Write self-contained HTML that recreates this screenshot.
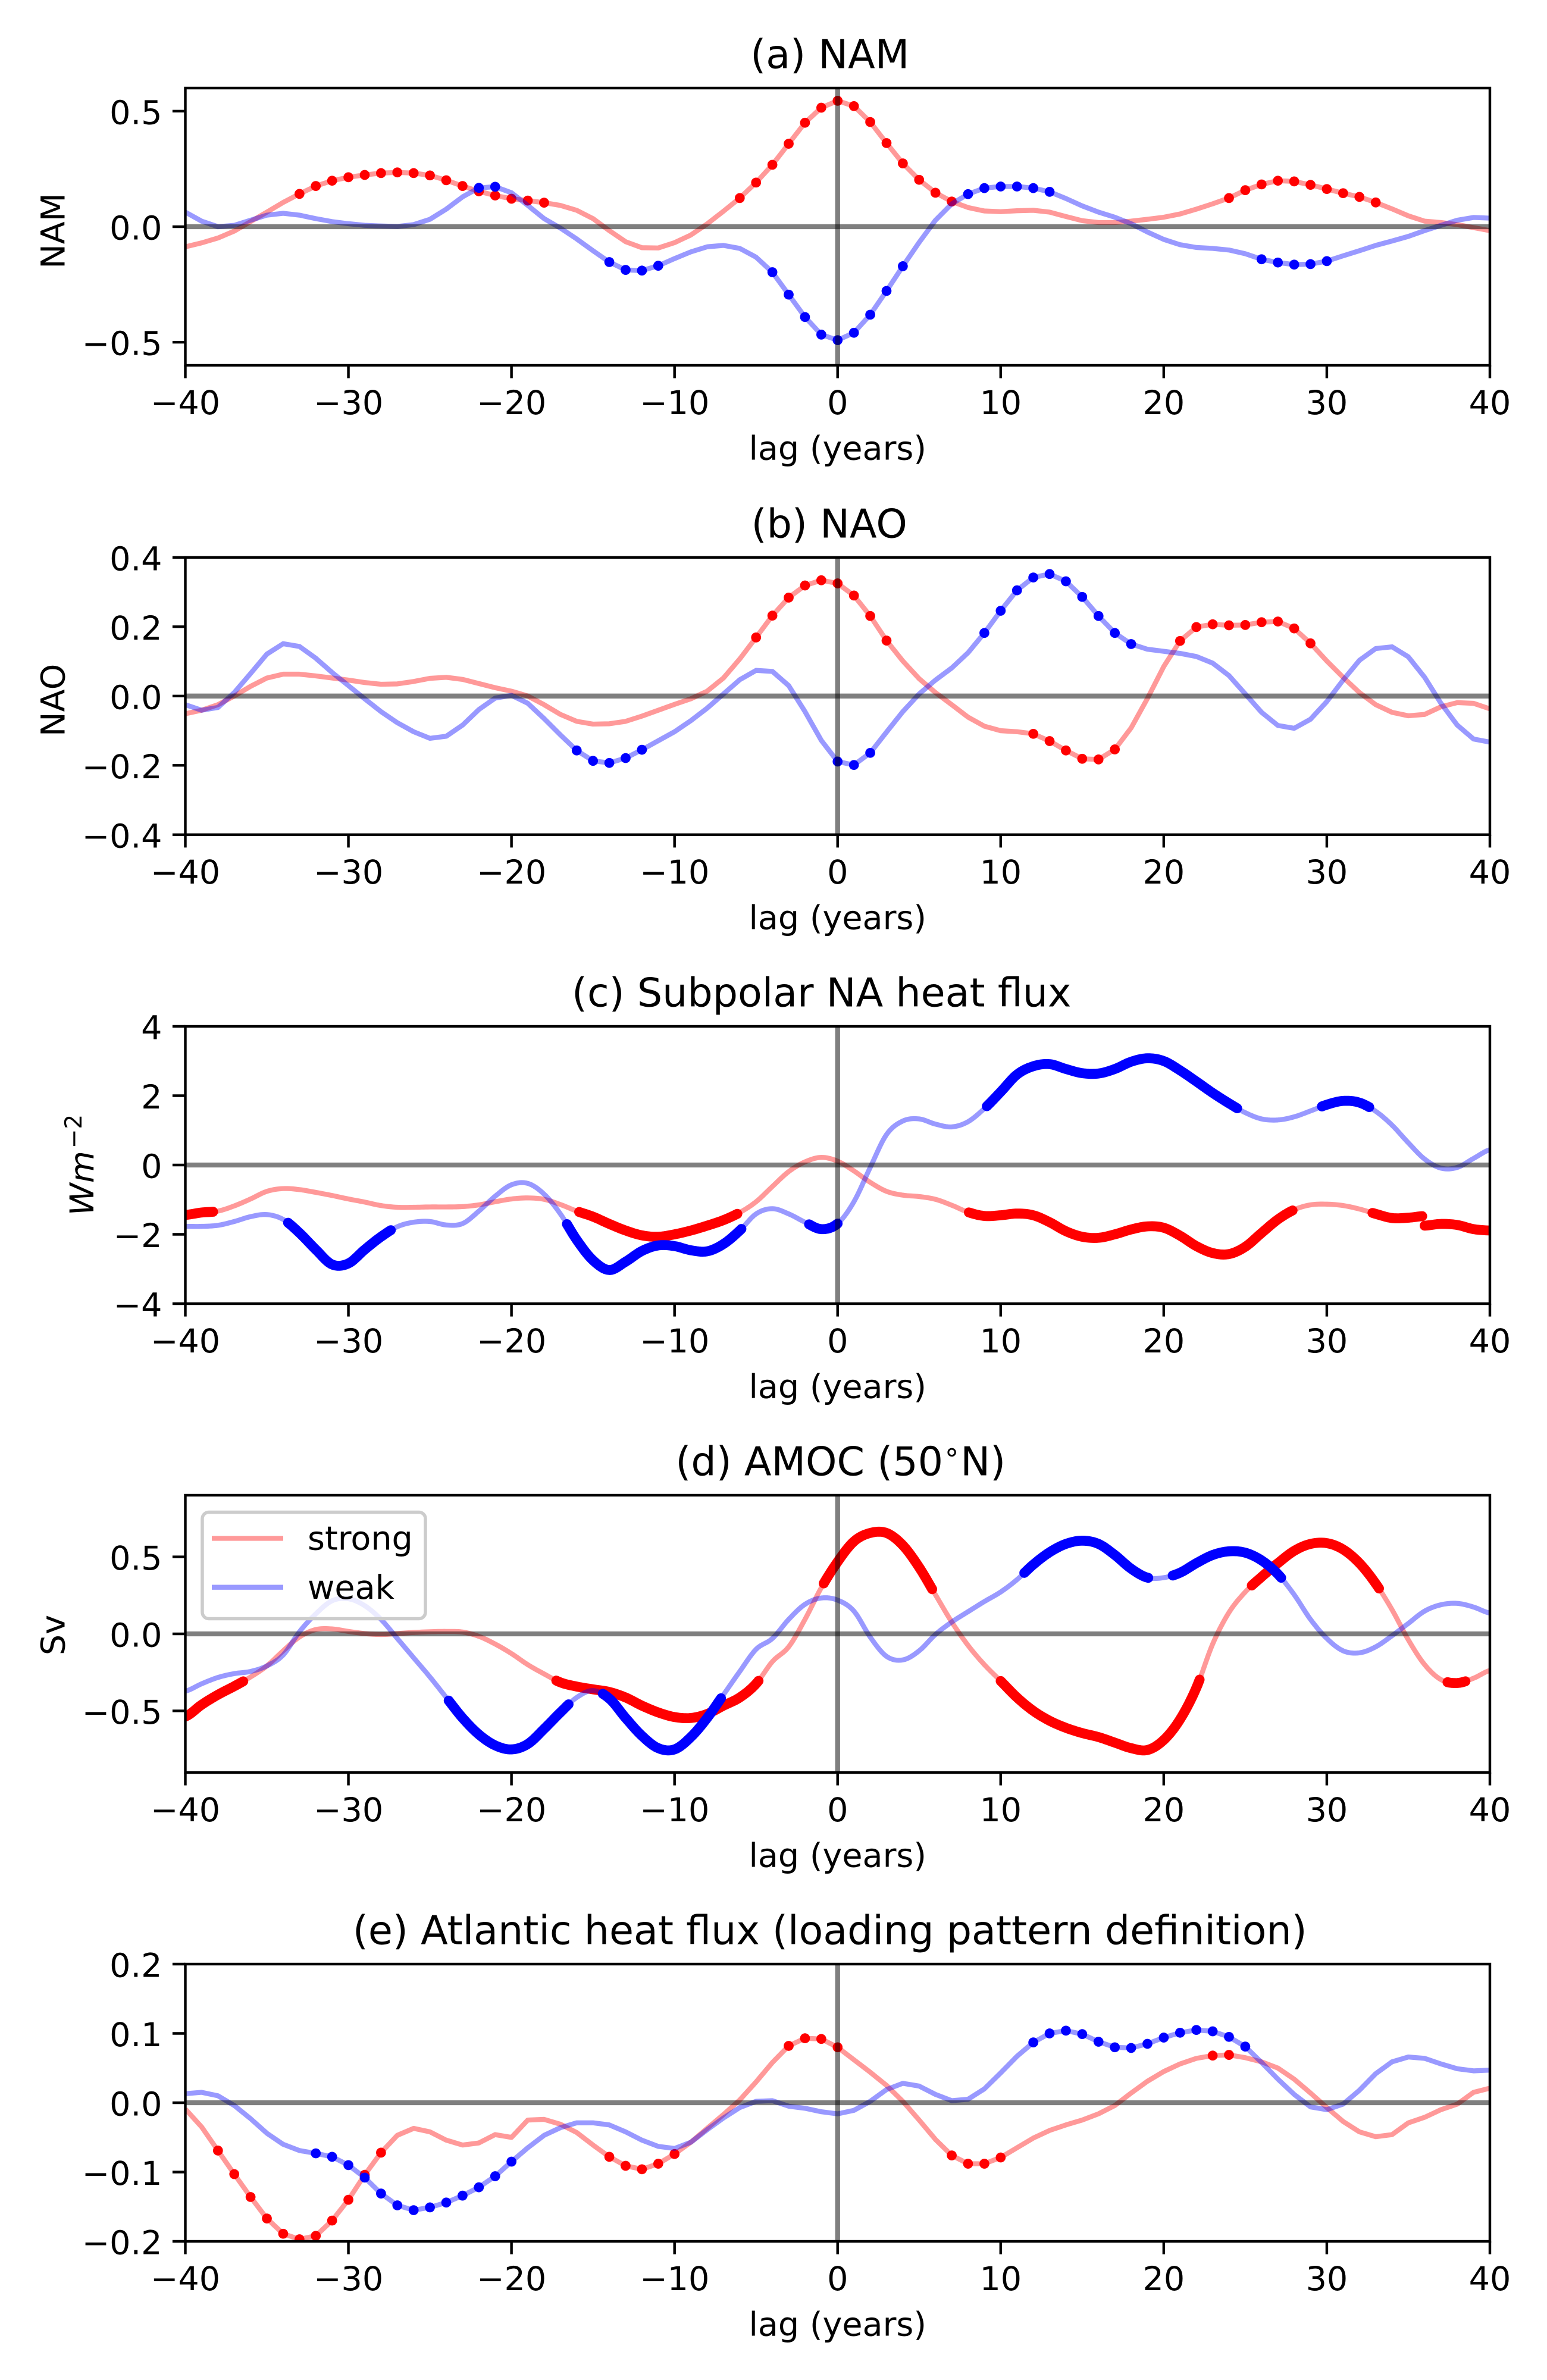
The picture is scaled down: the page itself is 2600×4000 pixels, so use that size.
<!DOCTYPE html>
<html lang="en">
<head>
<meta charset="utf-8">
<title>Lag composites of NAM, NAO, heat flux and AMOC</title>
<style>
  html, body { margin: 0; padding: 0; background: #ffffff; }
  svg { display: block; }
  text { font-family: "DejaVu Sans", "Liberation Sans", sans-serif; fill: #000000; }
</style>
</head>
<body>
<svg id="figure" xmlns="http://www.w3.org/2000/svg" width="2600" height="4000" viewBox="0 0 2600 4000"></svg>
<script>
// ---------- Data: values at integer lags, first value is lag -40 ----------
const xTickValues = [-40, -30, -20, -10, 0, 10, 20, 30, 40];
const xTickLabels = ['\u221240', '\u221230', '\u221220', '\u221210', '0', '10', '20', '30', '40'];

const namStrong = [-0.087,-0.07,-0.049,-0.019,0.022,0.063,0.105,0.142,0.176,0.199,0.214,0.224,0.232,0.235,0.232,0.222,0.201,0.176,0.153,0.135,0.121,0.113,0.104,0.092,0.071,0.035,-0.017,-0.065,-0.091,-0.092,-0.069,-0.036,0.012,0.067,0.124,0.191,0.268,0.359,0.45,0.515,0.545,0.522,0.453,0.362,0.274,0.203,0.147,0.109,0.083,0.068,0.065,0.069,0.071,0.063,0.044,0.026,0.018,0.018,0.024,0.032,0.041,0.055,0.076,0.099,0.124,0.158,0.183,0.199,0.196,0.181,0.163,0.145,0.129,0.105,0.077,0.047,0.024,0.018,0.009,-0.004,-0.017];
const namWeak = [0.063,0.024,0,0.006,0.028,0.05,0.058,0.05,0.035,0.022,0.013,0.006,0.003,0.001,0.009,0.032,0.076,0.129,0.168,0.173,0.147,0.092,0.035,-0.006,-0.053,-0.104,-0.153,-0.187,-0.19,-0.169,-0.138,-0.109,-0.087,-0.081,-0.094,-0.132,-0.197,-0.294,-0.391,-0.467,-0.491,-0.459,-0.381,-0.278,-0.171,-0.068,0.028,0.099,0.141,0.167,0.174,0.174,0.167,0.151,0.122,0.09,0.063,0.041,0.013,-0.023,-0.055,-0.078,-0.09,-0.094,-0.101,-0.117,-0.141,-0.155,-0.164,-0.162,-0.149,-0.126,-0.104,-0.081,-0.062,-0.042,-0.017,0.006,0.028,0.04,0.037];
const namStrongSig = [[-33,-18],[-6,7],[24,33]];
const namWeakSig = [[-22,-21],[-14,-11],[-4,4],[8,13],[26,30]];
const namTicks = [0.5, 0, -0.5];
const namTickLabels = ['0.5', '0.0', '\u22120.5'];

const naoStrong = [-0.051,-0.041,-0.025,0,0.028,0.052,0.063,0.063,0.058,0.052,0.046,0.039,0.034,0.035,0.042,0.051,0.054,0.048,0.036,0.024,0.014,0,-0.025,-0.053,-0.073,-0.081,-0.08,-0.073,-0.058,-0.041,-0.024,-0.008,0.014,0.052,0.107,0.169,0.232,0.284,0.319,0.334,0.325,0.29,0.231,0.16,0.101,0.05,0.01,-0.025,-0.061,-0.087,-0.1,-0.103,-0.109,-0.13,-0.157,-0.181,-0.183,-0.154,-0.092,-0.007,0.085,0.159,0.199,0.207,0.204,0.205,0.213,0.215,0.195,0.152,0.101,0.054,0.01,-0.025,-0.047,-0.057,-0.053,-0.031,-0.019,-0.021,-0.037];
const naoWeak = [-0.025,-0.041,-0.033,0.01,0.065,0.121,0.151,0.143,0.109,0.068,0.03,-0.008,-0.045,-0.077,-0.103,-0.122,-0.116,-0.084,-0.039,-0.006,0.002,-0.021,-0.065,-0.112,-0.157,-0.187,-0.193,-0.179,-0.155,-0.129,-0.103,-0.071,-0.035,0.006,0.047,0.074,0.071,0.03,-0.045,-0.128,-0.189,-0.199,-0.164,-0.104,-0.045,0.006,0.046,0.081,0.125,0.182,0.246,0.305,0.342,0.352,0.331,0.286,0.231,0.182,0.15,0.135,0.129,0.123,0.114,0.095,0.059,0.006,-0.047,-0.085,-0.093,-0.067,-0.016,0.046,0.103,0.137,0.142,0.113,0.054,-0.021,-0.084,-0.124,-0.133];
const naoStrongSig = [[-5,3],[12,17],[21,29]];
const naoWeakSig = [[-16,-12],[0,2],[9,18]];
const naoTicks = [0.4, 0.2, 0, -0.2, -0.4];
const naoTickLabels = ['0.4', '0.2', '0.0', '\u22120.2', '\u22120.4'];

// Heat flux strong composite runs to lag 36, then restarts with a small jump (lags 36..40)
const fluxStrong = [-1.44,-1.37,-1.33,-1.18,-0.98,-0.76,-0.68,-0.71,-0.79,-0.88,-0.98,-1.07,-1.17,-1.22,-1.22,-1.21,-1.21,-1.2,-1.15,-1.06,-0.98,-0.95,-0.99,-1.14,-1.33,-1.49,-1.7,-1.89,-2.03,-2.07,-2.0,-1.89,-1.75,-1.59,-1.37,-1.06,-0.62,-0.19,0.09,0.22,0.11,-0.17,-0.5,-0.76,-0.87,-0.91,-0.99,-1.16,-1.36,-1.47,-1.45,-1.4,-1.45,-1.65,-1.91,-2.07,-2.1,-2.0,-1.86,-1.77,-1.81,-2.04,-2.34,-2.54,-2.57,-2.36,-1.96,-1.57,-1.29,-1.15,-1.13,-1.17,-1.27,-1.41,-1.53,-1.52,-1.47];
const fluxStrongTail = [-1.75,-1.7,-1.73,-1.85,-1.89];
const fluxWeak = [-1.77,-1.77,-1.74,-1.63,-1.49,-1.43,-1.57,-1.96,-2.44,-2.87,-2.84,-2.44,-2.07,-1.78,-1.65,-1.63,-1.73,-1.69,-1.33,-0.9,-0.57,-0.53,-0.84,-1.41,-2.16,-2.75,-3.03,-2.79,-2.48,-2.32,-2.34,-2.46,-2.49,-2.28,-1.89,-1.41,-1.26,-1.41,-1.65,-1.85,-1.69,-1.06,-0.07,0.88,1.27,1.33,1.18,1.1,1.25,1.63,2.11,2.61,2.85,2.91,2.77,2.65,2.64,2.77,2.98,3.08,3.0,2.73,2.41,2.08,1.78,1.51,1.33,1.3,1.39,1.56,1.74,1.85,1.8,1.55,1.15,0.64,0.17,-0.09,-0.07,0.19,0.44];
const fluxStrongSig = [[-40,-38.3],[-15.85,-6.15],[8.05,27.9],[32.8,35.85]];
const fluxStrongTailSig = [[36,40]];
const fluxWeakSig = [[-33.7,-27.4],[-16.6,-5.9],[-1.75,0],[9.15,24.5],[29.7,32.6]];
const fluxTicks = [4, 2, 0, -2, -4];
const fluxTickLabels = ['4', '2', '0', '\u22122', '\u22124'];

const amocStrong = [-0.537,-0.46,-0.395,-0.34,-0.28,-0.208,-0.11,-0.02,0.028,0.032,0.016,0.002,-0.004,0.002,0.009,0.014,0.016,0.012,-0.016,-0.066,-0.128,-0.2,-0.26,-0.315,-0.342,-0.36,-0.377,-0.413,-0.466,-0.51,-0.54,-0.546,-0.52,-0.466,-0.413,-0.324,-0.18,-0.084,0.094,0.3,0.468,0.6,0.655,0.655,0.575,0.432,0.254,0.077,-0.075,-0.2,-0.306,-0.413,-0.5,-0.564,-0.61,-0.644,-0.67,-0.706,-0.742,-0.754,-0.689,-0.555,-0.35,-0.066,0.139,0.272,0.37,0.459,0.539,0.584,0.589,0.548,0.459,0.326,0.157,-0.039,-0.2,-0.297,-0.319,-0.288,-0.238];
const amocWeak = [-0.372,-0.324,-0.283,-0.258,-0.244,-0.208,-0.137,0.014,0.13,0.215,0.228,0.183,0.094,-0.03,-0.155,-0.28,-0.413,-0.546,-0.653,-0.724,-0.75,-0.715,-0.617,-0.51,-0.413,-0.368,-0.42,-0.546,-0.662,-0.742,-0.75,-0.67,-0.546,-0.395,-0.244,-0.1,-0.03,0.094,0.192,0.233,0.219,0.148,-0.021,-0.146,-0.169,-0.11,-0.004,0.077,0.144,0.21,0.272,0.352,0.45,0.53,0.584,0.605,0.584,0.512,0.423,0.365,0.365,0.397,0.459,0.512,0.536,0.527,0.477,0.388,0.254,0.094,-0.03,-0.11,-0.123,-0.084,-0.012,0.068,0.148,0.189,0.198,0.174,0.135];
const amocStrongSig = [[-40,-36.45],[-17.25,-4.85],[-0.85,5.8],[10,22.2],[25.4,33.2],[37.4,38.5]];
const amocWeakSig = [[-23.85,-16.5],[-14.4,-7.15],[11.45,19.05],[20.55,27.2]];
const amocTicks = [0.5, 0, -0.5];
const amocTickLabels = ['0.5', '0.0', '\u22120.5'];

const atlStrong = [-0.009,-0.035,-0.069,-0.103,-0.136,-0.167,-0.189,-0.197,-0.192,-0.17,-0.14,-0.104,-0.072,-0.047,-0.037,-0.042,-0.054,-0.061,-0.058,-0.046,-0.05,-0.025,-0.024,-0.031,-0.043,-0.061,-0.078,-0.091,-0.096,-0.088,-0.074,-0.057,-0.037,-0.017,0.004,0.03,0.058,0.082,0.093,0.092,0.08,0.062,0.044,0.025,0.002,-0.025,-0.053,-0.076,-0.088,-0.088,-0.079,-0.065,-0.051,-0.04,-0.032,-0.025,-0.016,-0.004,0.014,0.031,0.045,0.056,0.064,0.068,0.069,0.065,0.059,0.05,0.034,0.014,-0.007,-0.027,-0.042,-0.049,-0.046,-0.029,-0.021,-0.01,-0.002,0.015,0.021];
const atlWeak = [0.013,0.015,0.01,-0.004,-0.023,-0.044,-0.06,-0.069,-0.073,-0.078,-0.09,-0.108,-0.131,-0.148,-0.155,-0.151,-0.144,-0.134,-0.122,-0.106,-0.085,-0.065,-0.047,-0.036,-0.029,-0.029,-0.032,-0.042,-0.054,-0.063,-0.066,-0.057,-0.039,-0.022,-0.007,0.002,0.003,-0.005,-0.008,-0.013,-0.016,-0.011,0.002,0.019,0.028,0.024,0.012,0.003,0.005,0.02,0.043,0.067,0.087,0.1,0.104,0.099,0.088,0.08,0.079,0.085,0.094,0.101,0.105,0.103,0.095,0.081,0.058,0.034,0.012,-0.006,-0.01,-0.002,0.018,0.042,0.059,0.066,0.064,0.056,0.049,0.046,0.047];
const atlStrongSig = [[-38,-28],[-14,-10],[-3,0],[7,10],[23,24]];
const atlWeakSig = [[-32,-20],[12,25]];
const atlTicks = [0.2, 0.1, 0, -0.1, -0.2];
const atlTickLabels = ['0.2', '0.1', '0.0', '\u22120.1', '\u22120.2'];

// ---------- Layout ----------
const SVG_NS = 'http://www.w3.org/2000/svg';
const figure = document.getElementById('figure');
const AX_LEFT = 311.5, AX_RIGHT = 2504, AX_H = 466;
const AX_CX = (AX_LEFT + AX_RIGHT) / 2;
const TICK_LEN = 19.4, SPINE_W = 4.44, LINE_W = 8.33, BAND_W = 16.7, DOT_R = 8.35;
const RED = '#ff0000', BLUE = '#0000ff';

function make(tag, attrs, parent, text) {
  const node = document.createElementNS(SVG_NS, tag);
  for (const key in attrs) node.setAttribute(key, attrs[key]);
  if (text !== undefined) node.textContent = text;
  parent.appendChild(node);
  return node;
}

function xScale(lag) { return AX_LEFT + (lag + 40) / 80 * (AX_RIGHT - AX_LEFT); }

// Catmull-Rom evaluation through the integer-lag values
function smoothValue(values, startLag, lag) {
  const u = Math.min(Math.max(lag - startLag, 0), values.length - 1);
  const i = Math.min(Math.floor(u), values.length - 2);
  const t = u - i;
  const p0 = values[Math.max(i - 1, 0)], p1 = values[i], p2 = values[i + 1], p3 = values[Math.min(i + 2, values.length - 1)];
  return 0.5 * (2 * p1 + (p2 - p0) * t + (2 * p0 - 5 * p1 + 4 * p2 - p3) * t * t + (3 * p1 - p0 - 3 * p2 + p3) * t * t * t);
}

function linePoints(values, startLag, yScale, smooth, from, to) {
  const pts = [];
  if (smooth) {
    const steps = Math.max(1, Math.round((to - from) * 8));
    for (let s = 0; s <= steps; s++) {
      const lag = from + (to - from) * s / steps;
      pts.push(xScale(lag).toFixed(2) + ',' + yScale(smoothValue(values, startLag, lag)).toFixed(2));
    }
  } else {
    values.forEach(function (v, i) { pts.push(xScale(startLag + i).toFixed(2) + ',' + yScale(v).toFixed(2)); });
  }
  return pts.join(' ');
}

function drawSeries(group, values, startLag, color, seriesName, yScale, smooth) {
  const end = startLag + values.length - 1;
  const line = make('polyline', { points: linePoints(values, startLag, yScale, smooth, startLag, end), fill: 'none', stroke: color, 'stroke-opacity': 0.4, 'stroke-width': LINE_W, 'stroke-linejoin': 'round' }, group);
  
  
}

function drawDots(group, values, ranges, color, seriesName, yScale) {
  ranges.forEach(function (range) {
    for (let lag = range[0]; lag <= range[1]; lag++) {
      const dot = make('circle', { cx: xScale(lag).toFixed(2), cy: yScale(values[lag + 40]).toFixed(2), r: DOT_R, fill: color }, group);
      
      
    }
  });
}

function drawBands(group, values, startLag, ranges, color, seriesName, yScale) {
  ranges.forEach(function (range) {
    const band = make('polyline', { points: linePoints(values, startLag, yScale, true, range[0], range[1]), fill: 'none', stroke: color, 'stroke-width': BAND_W, 'stroke-linecap': 'round', 'stroke-linejoin': 'round' }, group);
    
    
  });
}

function drawPanel(key, title, titleShift, top, yMax, ticks, tickLabels, drawMarks) {
  const bottom = top + AX_H;
  const yScale = function (v) { return top + (yMax - v) / (2 * yMax) * AX_H; };

  const panel = make('g', {}, figure);
  
  

  const clip = make('clipPath', { id: 'clip-' + key }, panel);
  make('rect', { x: AX_LEFT, y: top, width: AX_RIGHT - AX_LEFT, height: AX_H }, clip);

  const marks = make('g', { 'clip-path': 'url(#clip-' + key + ')' }, panel);
  
  
  drawMarks(marks, yScale);

  const zeroH = make('line', { x1: AX_LEFT, x2: AX_RIGHT, y1: yScale(0), y2: yScale(0), stroke: '#000', 'stroke-opacity': 0.5, 'stroke-width': LINE_W }, marks);
  
  
  const zeroV = make('line', { x1: xScale(0), x2: xScale(0), y1: top, y2: bottom, stroke: '#000', 'stroke-opacity': 0.5, 'stroke-width': LINE_W }, marks);
  
  

  const frame = make('rect', { x: AX_LEFT, y: top, width: AX_RIGHT - AX_LEFT, height: AX_H, fill: 'none', stroke: '#000', 'stroke-width': SPINE_W }, panel);
  
  

  xTickValues.forEach(function (v, i) {
    const mark = make('line', { x1: xScale(v), x2: xScale(v), y1: bottom, y2: bottom + TICK_LEN + SPINE_W / 2, stroke: '#000', 'stroke-width': SPINE_W }, panel);
    
    
    const label = make('text', { x: xScale(v), y: bottom + 82, 'text-anchor': 'middle', 'font-size': 55.56 }, panel, xTickLabels[i]);
    
    
  });

  ticks.forEach(function (v, i) {
    const mark = make('line', { x1: AX_LEFT - TICK_LEN - SPINE_W / 2, x2: AX_LEFT, y1: yScale(v), y2: yScale(v), stroke: '#000', 'stroke-width': SPINE_W }, panel);
    
    
    const label = make('text', { x: AX_LEFT - 39, y: yScale(v) + 21.5, 'text-anchor': 'end', 'font-size': 55.56 }, panel, tickLabels[i]);
    
    
  });

  const xTitle = make('text', { x: AX_CX, y: bottom + 158.5, 'text-anchor': 'middle', 'font-size': 55.56 }, panel, 'lag (years)');
  
  

  const titleNode = make('text', { x: AX_CX + titleShift, y: top - 33.5, 'text-anchor': 'middle', 'font-size': 66.67 }, panel);
  
  
  title(titleNode);

  return { panel: panel, top: top, bottom: bottom, mid: top + AX_H / 2 };
}

function plainTitle(str) { return function (node) { node.textContent = str; }; }

function yTitle(info, key, str, baseX, shiftY) {
  const cy = info.mid + shiftY;
  const node = make('text', { x: baseX, y: cy, transform: 'rotate(-90 ' + baseX + ' ' + cy + ')', 'text-anchor': 'middle', 'font-size': 55.56 }, info.panel, str);
  
  
  return node;
}

// ---------- (a) NAM ----------
const namInfo = drawPanel('nam', plainTitle('(a) NAM'), -13, 148, 0.6, namTicks, namTickLabels, function (g, y) {
  drawSeries(g, namStrong, -40, RED, 'nam-strong', y, false);
  drawDots(g, namStrong, namStrongSig, RED, 'nam-strong', y);
  drawSeries(g, namWeak, -40, BLUE, 'nam-weak', y, false);
  drawDots(g, namWeak, namWeakSig, BLUE, 'nam-weak', y);
});
yTitle(namInfo, 'nam', 'NAM', 108.5, 7);

// ---------- (b) NAO ----------
const naoInfo = drawPanel('nao', plainTitle('(b) NAO'), -14, 936.8, 0.4, naoTicks, naoTickLabels, function (g, y) {
  drawSeries(g, naoStrong, -40, RED, 'nao-strong', y, false);
  drawDots(g, naoStrong, naoStrongSig, RED, 'nao-strong', y);
  drawSeries(g, naoWeak, -40, BLUE, 'nao-weak', y, false);
  drawDots(g, naoWeak, naoWeakSig, BLUE, 'nao-weak', y);
});
yTitle(naoInfo, 'nao', 'NAO', 108.5, 7);

// ---------- (c) Subpolar NA heat flux ----------
const fluxInfo = drawPanel('heat-flux', plainTitle('(c) Subpolar NA heat flux'), -27, 1725, 4, fluxTicks, fluxTickLabels, function (g, y) {
  drawSeries(g, fluxStrong, -40, RED, 'heat-flux-strong', y, true);
  drawBands(g, fluxStrong, -40, fluxStrongSig, RED, 'heat-flux-strong', y);
  drawBands(g, fluxStrongTail, 36, fluxStrongTailSig, RED, 'heat-flux-strong', y);
  drawSeries(g, fluxWeak, -40, BLUE, 'heat-flux-weak', y, true);
  drawBands(g, fluxWeak, -40, fluxWeakSig, BLUE, 'heat-flux-weak', y);
});
const fluxLabel = yTitle(fluxInfo, 'heat-flux', '', 157, 0);
const fluxUnit = make('tspan', { 'font-style': 'italic' }, fluxLabel, 'Wm');


const fluxPower = make('tspan', { dy: -20, dx: 4, 'font-size': 38.9 }, fluxLabel, '\u22122');



// ---------- (d) AMOC ----------
const amocInfo = drawPanel('amoc', function (node) {
  make('tspan', {}, node, '(d) AMOC (50');
  make('tspan', { dy: -24, 'font-size': 46.7 }, node, '\u2218');
  make('tspan', { dy: 24 }, node, 'N)');
}, 5, 2513, 0.9, amocTicks, amocTickLabels, function (g, y) {
  drawSeries(g, amocStrong, -40, RED, 'amoc-strong', y, true);
  drawBands(g, amocStrong, -40, amocStrongSig, RED, 'amoc-strong', y);
  drawSeries(g, amocWeak, -40, BLUE, 'amoc-weak', y, true);
  drawBands(g, amocWeak, -40, amocWeakSig, BLUE, 'amoc-weak', y);
});
yTitle(amocInfo, 'amoc', 'Sv', 108.5, 2);

const legend = make('g', {}, amocInfo.panel);


const legendBox = make('rect', { x: 340, y: 2541.5, width: 375, height: 179, rx: 11, ry: 11, fill: '#ffffff', 'fill-opacity': 0.8, stroke: '#cccccc', 'stroke-width': 5.5 }, legend);


const legendStrongLine = make('line', { x1: 356, x2: 476, y1: 2585.5, y2: 2585.5, stroke: RED, 'stroke-opacity': 0.4, 'stroke-width': LINE_W }, legend);


const legendStrongText = make('text', { x: 517, y: 2604.5, 'font-size': 55.56 }, legend, 'strong');


const legendWeakLine = make('line', { x1: 356, x2: 476, y1: 2667.7, y2: 2667.7, stroke: BLUE, 'stroke-opacity': 0.4, 'stroke-width': LINE_W }, legend);


const legendWeakText = make('text', { x: 517, y: 2687, 'font-size': 55.56 }, legend, 'weak');



// ---------- (e) Atlantic heat flux ----------
drawPanel('atlantic-flux', plainTitle('(e) Atlantic heat flux (loading pattern definition)'), -13, 3301, 0.2, atlTicks, atlTickLabels, function (g, y) {
  drawSeries(g, atlStrong, -40, RED, 'atlantic-flux-strong', y, false);
  drawDots(g, atlStrong, atlStrongSig, RED, 'atlantic-flux-strong', y);
  drawSeries(g, atlWeak, -40, BLUE, 'atlantic-flux-weak', y, false);
  drawDots(g, atlWeak, atlWeakSig, BLUE, 'atlantic-flux-weak', y);
});
</script>
</body>
</html>
